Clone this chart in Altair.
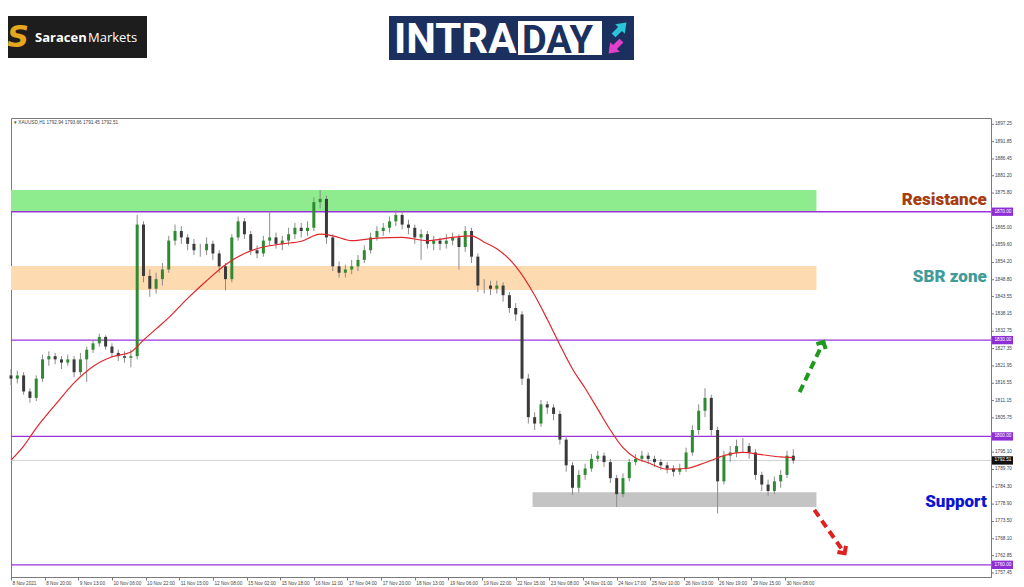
import altair as alt
import pandas as pd

# ---------------- data ----------------
closes = [1818, 1819, 1814, 1812, 1818, 1824, 1825, 1824, 1823, 1824,
          1820, 1824, 1827, 1829, 1831, 1828, 1826, 1825, 1824.5, 1825,
          1866, 1850, 1846, 1849, 1852, 1861, 1864, 1862, 1860, 1858,
          1858, 1860, 1857, 1853, 1849, 1862, 1867, 1863, 1858, 1857,
          1861, 1862, 1860, 1861, 1863, 1865, 1864, 1865, 1873, 1874,
          1862, 1853, 1851, 1852, 1853, 1855, 1858, 1862, 1864, 1865,
          1867, 1869, 1866, 1865, 1862, 1863, 1860, 1861, 1860, 1861,
          1862, 1859, 1864, 1856, 1847, 1847, 1846, 1847, 1844, 1840,
          1838, 1818, 1806, 1804, 1810, 1809, 1807, 1799, 1791, 1784,
          1788, 1790, 1793, 1794, 1792, 1787, 1782, 1787, 1792, 1793,
          1794, 1793, 1792, 1791, 1790, 1789, 1790, 1795, 1802, 1808,
          1812, 1802, 1786, 1794, 1795, 1797, 1797, 1795, 1788, 1785,
          1783, 1786, 1788, 1794, 1792.5]
first_open = 1819
highs = [1821, 1820.5, 1820, 1815, 1819, 1825.5, 1826.5, 1826, 1825, 1825.5,
         1825, 1826, 1828, 1830, 1832, 1831.5, 1829, 1827, 1826.5, 1827,
         1869, 1867, 1852, 1851, 1854, 1862.5, 1866, 1865.5, 1863, 1861.5,
         1860, 1862, 1861, 1858, 1854, 1863, 1868.5, 1868, 1864, 1859.5,
         1862.5, 1870, 1863.5, 1862.5, 1865, 1866.5, 1866.5, 1867, 1874.5, 1876.7,
         1875, 1863, 1854.5, 1853.5, 1855, 1856.5, 1859.5, 1863.5, 1865.5, 1866.5,
         1868.5, 1870.5, 1870, 1867.5, 1866, 1864.5, 1864, 1862.5, 1862, 1863,
         1863.5, 1863, 1865.5, 1865, 1857, 1849, 1848.5, 1848.5, 1848, 1845,
         1841.5, 1839, 1819.5, 1807.5, 1811.3, 1811, 1810, 1808, 1800, 1792,
         1789.5, 1791.5, 1794.5, 1795.5, 1795, 1793, 1788, 1788.5, 1793, 1794.5,
         1795.5, 1795, 1794, 1793, 1792, 1791, 1791.5, 1796.5, 1803.5, 1810,
         1815, 1813, 1803, 1795.5, 1797, 1799, 1799.5, 1798, 1796, 1789,
         1786.5, 1787.5, 1789.5, 1795.5, 1796]
lows = [1816, 1816.5, 1813, 1810.5, 1811, 1817, 1822, 1822.5, 1821, 1822,
        1818.5, 1819, 1817, 1826, 1828, 1827, 1824.5, 1823.5, 1823, 1821.5,
        1824, 1848, 1843.5, 1844.5, 1847, 1851, 1859.5, 1860, 1858, 1856.5,
        1856, 1856.5, 1855, 1851, 1845.5, 1848, 1861, 1861.5, 1856.5, 1855.5,
        1856, 1859.5, 1858.5, 1858, 1859.5, 1861.5, 1862, 1862.5, 1864, 1871,
        1860, 1851.5, 1849.5, 1849.5, 1850.5, 1851.5, 1854, 1857, 1861, 1862.5,
        1863.5, 1865.5, 1864.5, 1863, 1860, 1855, 1858.5, 1858, 1858, 1858.5,
        1859.5, 1852, 1857.5, 1854, 1845, 1844.5, 1844, 1844.5, 1842, 1838.5,
        1836, 1816, 1804, 1802, 1803, 1807, 1805, 1797.5, 1789, 1781.8,
        1782.5, 1786.5, 1789, 1792, 1790.5, 1785.5, 1778, 1781, 1786, 1791,
        1792, 1791.5, 1790.5, 1789.5, 1788.5, 1787.5, 1788, 1789, 1794, 1800.5,
        1806, 1800, 1776, 1785, 1792, 1793.5, 1795, 1793, 1786.5, 1783,
        1781.5, 1782, 1784, 1787, 1791.5]

ma_k = [0, 2, 4, 7, 10, 13, 16, 19, 21, 23, 25, 28, 31, 34, 37, 40, 43, 46, 49, 51,
        54, 58, 62, 66, 70, 73, 75, 77, 80, 83, 85, 87, 89, 91, 93, 95, 97, 99, 101,
        104, 107, 110, 113, 116, 119, 122, 124]
ma_v = [1792.6, 1797, 1802.6, 1809.8, 1816.7, 1821.8, 1824.8, 1826.3, 1830, 1833.5,
        1837, 1843, 1848.5, 1853.5, 1857, 1859, 1860, 1860.8, 1863, 1862.5,
        1861, 1861.8, 1862, 1861, 1862, 1862.5, 1860.5, 1858.5, 1853, 1844,
        1836.5, 1828.5, 1821, 1815, 1808.5, 1802, 1796.5, 1793.3, 1791.8, 1789.8,
        1790, 1791.8, 1794, 1795, 1794.3, 1793.6, 1793.4]

x_labels = ["8 Nov 2021", "8 Nov 20:00", "9 Nov 13:00", "10 Nov 06:00", "10 Nov 22:00",
            "11 Nov 15:00", "12 Nov 08:00", "15 Nov 02:00", "15 Nov 18:00", "16 Nov 11:00",
            "17 Nov 04:00", "17 Nov 20:00", "18 Nov 13:00", "19 Nov 06:00", "19 Nov 22:00",
            "22 Nov 15:00", "23 Nov 08:00", "24 Nov 01:00", "24 Nov 17:00", "25 Nov 10:00",
            "26 Nov 03:00", "26 Nov 19:00", "29 Nov 15:00", "30 Nov 08:00"]
y_ticks = [1897.25, 1891.85, 1886.45, 1881.20, 1875.80, 1865.00, 1859.60, 1854.20,
           1848.80, 1843.55, 1838.15, 1832.75, 1827.35, 1821.95, 1816.55, 1811.15,
           1805.75, 1795.10, 1789.70, 1784.30, 1778.90, 1773.50, 1768.10, 1762.85, 1757.45]

level_prices = [1870.00, 1830.00, 1800.00, 1760.00]
last_price = 1792.51

zone_names = ["resistance", "sbr", "support"]
zone_x0 = [0, 0, 248]
zone_x1 = [383, 383, 383]
zone_lo = [1870.0, 1845.6, 1778.0]
zone_hi = [1876.8, 1853.1, 1782.6]

note_texts = ["Resistance", "SBR zone", "Support"]
note_prices = [1873.6, 1849.6, 1779.5]

# arrows (bar index, price)
up_arrow = [375, 1813.8, 386, 1829.0]
down_arrow = [382, 1777.1, 396, 1764.0]

header = "\u25be XAUUSD,H1  1792.94 1793.66 1791.45 1792.51"

# ---------------- tables ----------------
BARS_PER_CANDLE = 3
opens = [first_open] + closes[:-1]
candles = pd.DataFrame({
    "bar": [BARS_PER_CANDLE * k for k in range(len(closes))],
    "open": opens, "close": closes, "high": highs, "low": lows,
})
candles["dir"] = ["up" if c >= o else "down" for o, c in zip(opens, closes)]
ma = pd.DataFrame({"bar": [BARS_PER_CANDLE * k for k in ma_k], "ma": ma_v})
zones = pd.DataFrame({"name": zone_names, "x0": zone_x0, "x1": zone_x1,
                      "lo": zone_lo, "hi": zone_hi,
                      "col": ["#8EEB8E", "#FDDAB0", "#C4C4C4"]})
notes = pd.DataFrame({"t": note_texts, "p": note_prices, "bar": [464, 464, 464],
                      "col": ["#A63C12", "#3F9C9A", "#0A14D2"]})
yt = pd.DataFrame({"p": y_ticks, "lab": ["%.2f" % v for v in y_ticks]})

XD = [0, 466]
YD = [1756.2, 1899.2]
xs = alt.Scale(domain=XD, nice=False, zero=False, padding=0)
ys = alt.Scale(domain=YD, nice=False, zero=False, padding=0)

AX_FONT = "Liberation Sans"
label_arr = "[" + ",".join("'%s'" % s for s in x_labels) + "]"
x_axis = alt.Axis(values=[16 * i for i in range(len(x_labels))],
                  labelExpr=label_arr + "[round(datum.value/16)]",
                  labelAlign="left", labelOffset=1, labelFontSize=4.7, labelColor="#444",
                  labelFont=AX_FONT, tickSize=3, labelPadding=0, grid=False,
                  title=None, labelOverlap=False, labelFlush=False,
                  domainColor="#7a7a7a", tickColor="#7a7a7a")
y_axis = alt.Axis(orient="right", labels=False, ticks=False, grid=False, title=None,
                  domainColor="#7a7a7a")

layers = []

wicks = alt.Chart(candles).mark_rule(color="#8c8c8c", strokeWidth=1).encode(
    x=alt.X("bar:Q", scale=xs, axis=x_axis),
    y=alt.Y("low:Q", scale=ys, axis=y_axis), y2="high:Q")

# zones
layers.append(alt.Chart(zones).mark_rect().encode(
    x=alt.X("x0:Q", scale=xs, title=None), x2="x1:Q",
    y=alt.Y("lo:Q", scale=ys, title=None), y2="hi:Q",
    color=alt.Color("col:N", scale=None)))

# last price line
layers.append(alt.Chart(pd.DataFrame({"p": [last_price]})).mark_rule(
    color="#d2d2d2", strokeWidth=1).encode(y=alt.Y("p:Q", scale=ys, title=None)))

# level lines
layers.append(alt.Chart(pd.DataFrame({"p": level_prices})).mark_rule(
    color="#9B34D8", strokeWidth=1.3).encode(y=alt.Y("p:Q", scale=ys, title=None)))

layers.append(wicks)

# bodies
layers.append(alt.Chart(candles).mark_bar(size=3).encode(
    x=alt.X("bar:Q", scale=xs, title=None),
    y=alt.Y("open:Q", scale=ys, title=None), y2="close:Q",
    color=alt.Color("dir:N", scale=alt.Scale(domain=["up", "down"],
                                             range=["#2E8B32", "#3a3a3a"]), legend=None)))

# moving average
layers.append(alt.Chart(ma).mark_line(color="#E0262B", strokeWidth=1.2,
                                      interpolate="monotone").encode(
    x=alt.X("bar:Q", scale=xs, title=None), y=alt.Y("ma:Q", scale=ys, title=None)))

# notes
layers.append(alt.Chart(notes).mark_text(align="right", baseline="middle", fontSize=17,
                                         fontWeight=900, font="Roboto").encode(
    x=alt.X("bar:Q", scale=xs, title=None), y=alt.Y("p:Q", scale=ys, title=None),
    text="t:N", color=alt.Color("col:N", scale=None)))

# arrows
def arrow(vals, color, angle):
    d = pd.DataFrame({"x": [vals[0]], "y": [vals[1]], "x2": [vals[2]], "y2": [vals[3]]})
    line = alt.Chart(d).mark_rule(color=color, strokeWidth=4, strokeDash=[8, 5]).encode(
        x=alt.X("x:Q", scale=xs, title=None), x2="x2:Q",
        y=alt.Y("y:Q", scale=ys, title=None), y2="y2:Q")
    head = alt.Chart(d).mark_point(shape="M-1,0.7L0,-0.3L1,0.7", filled=False,
                                   color=color, strokeWidth=4, size=110, opacity=1,
                                   angle=angle).encode(
        x=alt.X("x2:Q", scale=xs, title=None), y=alt.Y("y2:Q", scale=ys, title=None))
    return [line, head]

layers += arrow(up_arrow, "#1E9A1E", 28)
layers += arrow(down_arrow, "#E02020", 145)

# price-axis ticks and labels
layers.append(alt.Chart(yt).mark_rule(color="#7a7a7a", strokeWidth=1).encode(
    x=alt.value(980), x2=alt.value(983), y=alt.Y("p:Q", scale=ys, title=None)))
layers.append(alt.Chart(yt).mark_text(align="left", baseline="middle", fontSize=4.7,
                                      font=AX_FONT, color="#444").encode(
    x=alt.value(984), y=alt.Y("p:Q", scale=ys, title=None), text="lab:N"))

# highlighted labels on the price axis
hl = pd.DataFrame({"p": level_prices + [last_price],
                   "col": ["#8E2FD6"] * len(level_prices) + ["#111111"]})
hl["lo"] = hl["p"] - 1.3
hl["hi"] = hl["p"] + 1.3
hl["lab"] = ["%.2f" % v for v in hl["p"]]
layers.append(alt.Chart(hl).mark_rect().encode(
    x=alt.value(981), x2=alt.value(1002),
    y=alt.Y("lo:Q", scale=ys, title=None), y2="hi:Q",
    color=alt.Color("col:N", scale=None)))
layers.append(alt.Chart(hl).mark_text(align="left", baseline="middle", fontSize=4.7,
                                      font=AX_FONT, color="white").encode(
    x=alt.value(983.5), y=alt.Y("p:Q", scale=ys, title=None), text="lab:N"))

def ptext(txt, x, y, **kw):
    return alt.Chart(pd.DataFrame({"t": [txt]})).mark_text(**kw).encode(
        x=alt.value(x), y=alt.value(y), text="t:N")

def prect(x, x2, y, y2, color):
    return alt.Chart(pd.DataFrame({"a": [0]})).mark_rect(color=color).encode(
        x=alt.value(x), x2=alt.value(x2), y=alt.value(y), y2=alt.value(y2))

# header text
layers.append(ptext(header, 3, 5, align="left", baseline="middle", fontSize=4.7,
                    font=AX_FONT, color="#444"))

# logos
layers.append(prect(-11, 136, -102, -60, "#1d1d1d"))
layers.append(ptext("S", 7, -80, align="center", baseline="middle", fontSize=30,
                    fontWeight="bold", fontStyle="italic", font="DejaVu Sans",
                    color="#E6A61E"))
layers.append(ptext("Saracen", 24, -76, align="left", baseline="alphabetic", fontSize=13,
                    fontWeight="bold", font="Open Sans", color="white"))
layers.append(ptext("Markets", 77, -76, align="left", baseline="alphabetic", fontSize=13,
                    font="Open Sans", color="white"))

layers.append(prect(378, 623, -102, -58, "#1C3060"))
layers.append(ptext("INTRA", 383, -65, align="left", baseline="alphabetic", fontSize=42,
                    fontWeight="bold", font="Roboto", color="white"))
layers.append(prect(507, 591, -97, -63, "white"))
layers.append(ptext("DAY", 511, -65, align="left", baseline="alphabetic", fontSize=38,
                    fontWeight="bold", font="Roboto", color="#1C3060"))
arrow_path = "M-0.3,1L-0.3,0L-0.75,0L0,-1L0.75,0L0.3,0L0.3,1Z"
layers.append(alt.Chart(pd.DataFrame({"a": [0]})).mark_point(
    shape=arrow_path, filled=True, color="#2BC4D8", size=330, angle=45, opacity=1).encode(
    x=alt.value(609), y=alt.value(-89)))
layers.append(alt.Chart(pd.DataFrame({"a": [0]})).mark_point(
    shape=arrow_path, filled=True, color="#E43FC9", size=330, angle=225, opacity=1).encode(
    x=alt.value(604), y=alt.value(-71)))

chart = alt.layer(*layers).properties(
    width=980, height=459,
    padding={"left": 3, "top": 110, "right": 25, "bottom": 10},
    autosize=alt.AutoSizeParams(type="none"),
    background="white",
).configure_view(stroke="#7a7a7a", strokeWidth=1).configure_axis(labelOverlap=False)

chart.save("out.html", embed_options={"renderer": "svg", "actions": False})
